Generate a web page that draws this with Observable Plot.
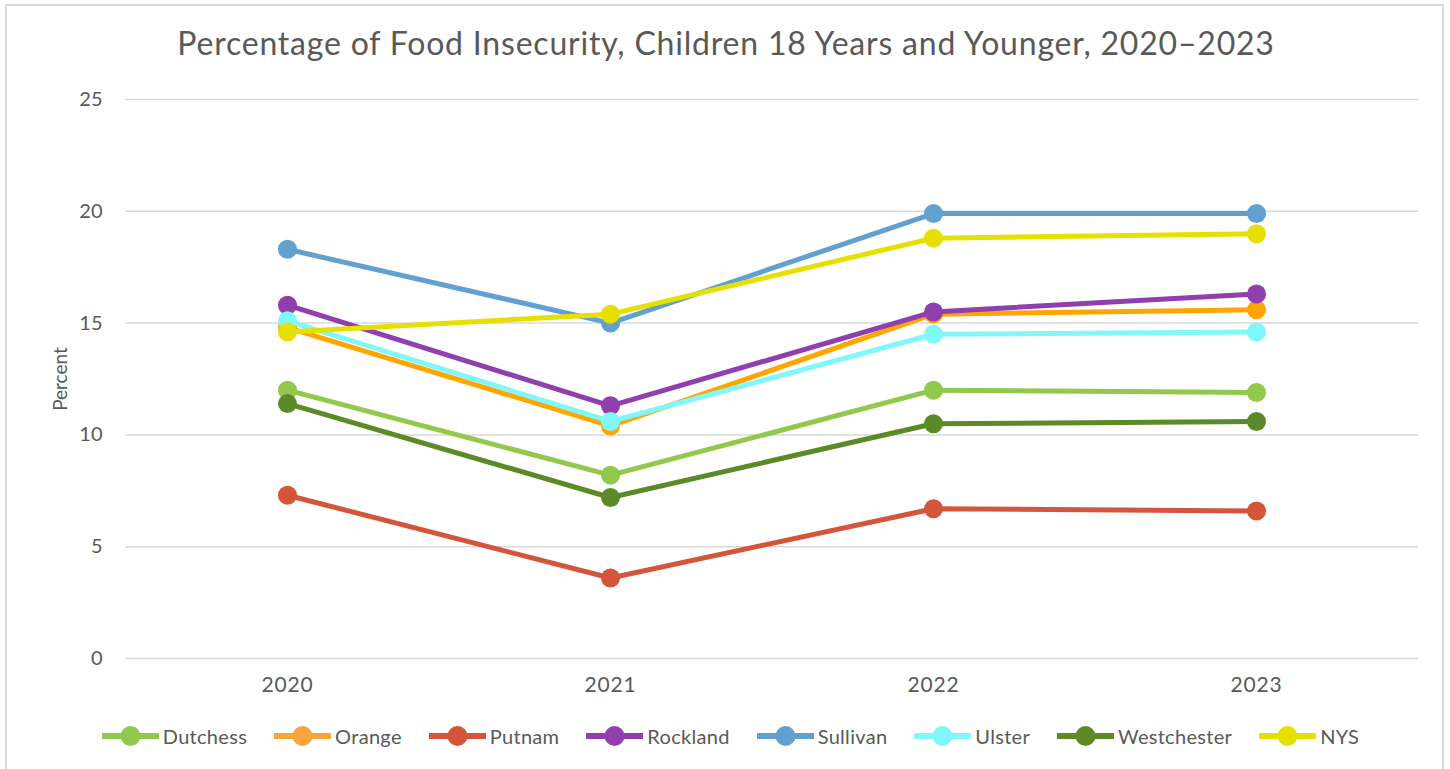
<!DOCTYPE html>
<html>
<head>
<meta charset="utf-8">
<script src="https://cdn.jsdelivr.net/npm/d3@7"></script>
<script src="https://cdn.jsdelivr.net/npm/@observablehq/plot@0.6"></script>
<style>
  html, body { margin: 0; padding: 0; background: #fff; }
  body { width: 1450px; height: 769px; overflow: hidden; position: relative; font-family: Lato, "Noto Sans", sans-serif; color: #595959; }
  #frame { position: absolute; left: 5px; top: 4px; width: 1439px; height: 780px; border: 2px solid #d9d9d9; box-sizing: border-box; pointer-events: none; }
  #title { height: 80px; padding-top: 5px; box-sizing: border-box; display: flex; align-items: center; justify-content: center; font-size: 32px; color: #595959; letter-spacing: 0.8px; padding-left: 2px; }
  #legend { margin-top: 16px; height: 20px; display: flex; justify-content: center; align-items: center; gap: 27px; font-size: 20px; letter-spacing: 0.3px; color: #595959; padding-left: 11px; }
  .item { display: flex; align-items: center; gap: 4px; }
  #chart svg g[aria-label="y-axis label"] text { font-size: 19px; }
  #chart svg g[aria-label="x-axis tick label"] text { letter-spacing: 0.8px; }
</style>
</head>
<body>
<div id="frame"></div>
<div id="title">Percentage of Food Insecurity, Children 18 Years and Younger, 2020–2023</div>
<div id="chart"></div>
<div id="legend"></div>
<script>
const years = ["2020", "2021", "2022", "2023"];
const seriesNames = ["Dutchess", "Orange", "Putnam", "Rockland", "Sullivan", "Ulster", "Westchester", "NYS"];
const seriesColors = ["#92C84B", "#F9A53B", "#D4553A", "#8F3FAE", "#62A0D0", "#80F7FB", "#5B8A27", "#E6E000"];
const dutchess    = [12.0, 8.2, 12.0, 11.9];
const orange      = [14.8, 10.4, 15.4, 15.6];
const putnam      = [7.3, 3.6, 6.7, 6.6];
const rockland    = [15.8, 11.3, 15.5, 16.3];
const sullivan    = [18.3, 15.0, 19.9, 19.9];
const ulster      = [15.1, 10.6, 14.5, 14.6];
const westchester = [11.4, 7.2, 10.5, 10.6];
const nys         = [14.6, 15.4, 18.8, 19.0];
const yTicks = [0, 5, 10, 15, 20, 25];

const seriesValues = [dutchess, orange, putnam, rockland, sullivan, ulster, westchester, nys];
const rows = [];
seriesNames.forEach((name, i) => {
  years.forEach((yr, j) => rows.push({series: name, year: yr, value: seriesValues[i][j]}));
});

const perSeries = seriesNames.flatMap(name => {
  const d = rows.filter(r => r.series === name);
  return [
    Plot.line(d, {x: "year", y: "value", stroke: "series", strokeWidth: 5}),
    Plot.dot(d, {x: "year", y: "value", fill: "series", r: 9.5})
  ];
});

const chart = Plot.plot({
  width: 1450,
  height: 630,
  marginTop: 19,
  marginBottom: 52,
  marginLeft: 125,
  marginRight: 32,
  style: {fontFamily: "Lato, 'Noto Sans', sans-serif", fontSize: "19px", color: "#595959", background: "transparent", overflow: "visible"},
  x: {type: "point", domain: years, padding: 0.5},
  y: {domain: [0, 25]},
  color: {domain: seriesNames, range: seriesColors},
  marks: [
    Plot.gridY(yTicks, {stroke: "#d9d9d9", strokeOpacity: 1, strokeWidth: 1.5}),
    Plot.axisY(yTicks, {tickSize: 0, tickPadding: 23, fontSize: 20, label: "Percent", labelAnchor: "center", labelArrow: "none", labelOffset: 72}),
    Plot.axisX(years, {tickSize: 0, tickPadding: 19, fontSize: 21, label: null}),
    ...perSeries
  ]
});
document.getElementById("chart").appendChild(chart);

const legend = document.getElementById("legend");
seriesNames.forEach((name, i) => {
  const item = document.createElement("div");
  item.className = "item";
  const c = seriesColors[i];
  item.innerHTML = `<svg width="57" height="22"><line x1="1" y1="11" x2="56" y2="11" stroke="${c}" stroke-width="6" stroke-linecap="round"/><circle cx="28.5" cy="11" r="10" fill="${c}"/></svg><span>${name}</span>`;
  legend.appendChild(item);
});
</script>
</body>
</html>
